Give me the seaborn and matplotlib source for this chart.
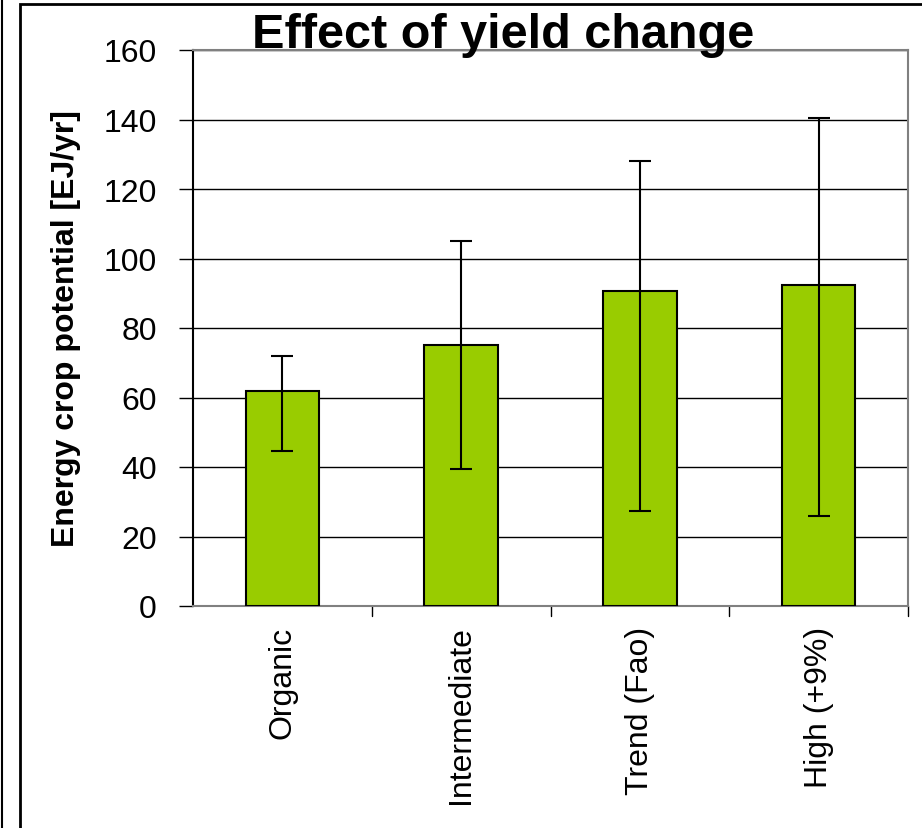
import pandas as pd
import seaborn as sns
import matplotlib.pyplot as plt
from matplotlib.patches import Rectangle
from matplotlib.lines import Line2D

# Dados
cenarios = ["Organic", "Intermediate", "Trend (Fao)", "High (+9%)"]
potencial = [62.0, 75.2, 90.7, 92.4]
erro_sup = [71.8, 105.0, 128.0, 140.5]
erro_inf = [44.6, 39.4, 27.4, 25.8]

sns.set_style("white")
plt.rcParams["font.family"] = ["Liberation Sans", "DejaVu Sans"]
plt.rcParams["text.color"] = "black"
plt.rcParams["axes.labelcolor"] = "black"
plt.rcParams["xtick.color"] = "black"
plt.rcParams["ytick.color"] = "black"

df = pd.DataFrame({"Cenario": cenarios, "Potencial": potencial})

fig = plt.figure(figsize=(9.22, 8.29), dpi=100)
ax = fig.add_axes([193 / 922, 1 - 607 / 829, (908 - 193) / 922, (607 - 51) / 829])

sns.barplot(x="Cenario", y="Potencial", data=df, color="#99CC00",
            edgecolor="black", linewidth=1.5, width=0.41, saturation=1,
            errorbar=None, ax=ax, zorder=3)

# barras de erro assimétricas
centros = [p.get_x() + p.get_width() / 2 for p in ax.patches]
yerr = [[v - lo for v, lo in zip(potencial, erro_inf)],
        [hi - v for v, hi in zip(potencial, erro_sup)]]
ax.errorbar(centros, potencial, yerr=yerr, fmt="none", ecolor="black",
            elinewidth=1.5, capsize=8, capthick=1.5, zorder=4)

ax.set_ylim(0, 160)
ax.set_xlim(-0.5, 3.5)
ax.set_yticks(range(0, 161, 20))
ax.yaxis.grid(True, color="black", linewidth=1)
ax.set_axisbelow(True)

ax.set_xlabel("")
ax.set_ylabel("Energy crop potential [EJ/yr]", fontsize=23, fontweight="bold", labelpad=16)
ax.tick_params(axis="y", labelsize=23, length=10, width=1, direction="out", left=True, pad=16)
ax.set_xticks([0, 1, 2, 3])
ax.set_xticklabels(cenarios, rotation=90, fontsize=23)
ax.tick_params(axis="x", length=0, pad=14)
for x in [0.5, 1.5, 2.5, 3.5]:
    ax.plot([x, x], [0, -0.018], transform=ax.get_xaxis_transform(), color="black",
            linewidth=1, clip_on=False)

ax.spines["left"].set_color("black")
ax.spines["bottom"].set_color("#808080")
ax.spines["top"].set_color("#808080")
ax.spines["right"].set_color("#808080")
for s in ax.spines.values():
    s.set_linewidth(1.5)

fig.text(503 / 922, 1 - 36 / 829, "Effect of yield change", fontsize=35,
         fontweight="bold", ha="center", va="center")

# moldura externa
fig.add_artist(Rectangle((20 / 922, -0.1), 1.1, 1 - 5 / 829 + 0.1, transform=fig.transFigure,
                         fill=False, edgecolor="black", linewidth=2))
fig.add_artist(Line2D([2 / 922, 2 / 922], [0, 1], transform=fig.transFigure,
                      color="black", linewidth=1.5))

fig.savefig("out.png", dpi=100)
